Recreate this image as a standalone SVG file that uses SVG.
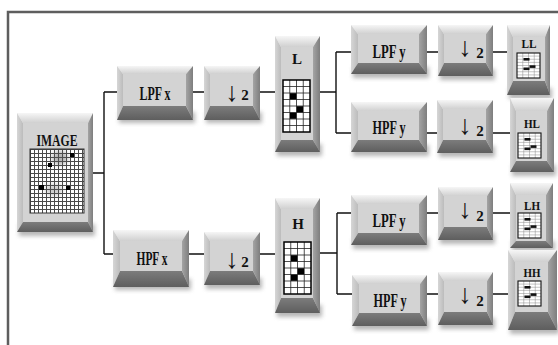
<svg xmlns="http://www.w3.org/2000/svg" xmlns:xlink="http://www.w3.org/1999/xlink" width="558" height="345" viewBox="0 0 558 345">
<defs>
<style>
.bt{fill:url(#gT)}
.bl{fill:url(#gL)}
.br{fill:url(#gR)}
.bb{fill:url(#gB)}
.fc{fill:#d3d3d3}
.sh{fill:#7a7a7a;opacity:0.55;filter:url(#blur)}
.lbl{font-family:"Liberation Serif","Times New Roman",serif;fill:#111;text-anchor:middle;font-weight:bold}
.big{font-size:18px}
.sm{font-size:15px}
.tiny{font-size:13px}
.arw{font-family:"Liberation Serif","DejaVu Serif",serif;fill:#111;font-size:27px;text-anchor:middle}
.two{font-family:"Liberation Serif",serif;fill:#111;font-size:15px;font-weight:bold;text-anchor:middle}
.con{fill:none;stroke:#111;stroke-width:1.4}
.frame{fill:none;stroke:#5e5e5e;stroke-width:2.5}
</style>
<linearGradient id="gT" x1="0" y1="0" x2="0" y2="1"><stop offset="0" stop-color="#f6f6f6"/><stop offset="1" stop-color="#d0d0d0"/></linearGradient>
<linearGradient id="gL" x1="0" y1="0" x2="1" y2="0"><stop offset="0" stop-color="#d6d6d6"/><stop offset="1" stop-color="#bcbcbc"/></linearGradient>
<linearGradient id="gR" x1="0" y1="0" x2="1" y2="0"><stop offset="0" stop-color="#a4a4a4"/><stop offset="1" stop-color="#7e7e7e"/></linearGradient>
<linearGradient id="gB" x1="0" y1="0" x2="0" y2="1"><stop offset="0" stop-color="#7c7c7c"/><stop offset="1" stop-color="#5e5e5e"/></linearGradient>
<filter id="blur" x="-20%" y="-60%" width="140%" height="220%"><feGaussianBlur stdDeviation="2"/></filter>
<filter id="soft" x="-50%" y="-50%" width="200%" height="200%"><feGaussianBlur stdDeviation="2.5"/></filter>
<pattern id="fine" x="30" y="149" width="4" height="4" patternUnits="userSpaceOnUse">
<rect width="4" height="4" fill="#fff"/>
<path d="M0,0.5H4M0.5,0V4" stroke="#4a4a4a" stroke-width="1"/>
</pattern>
<g id="bigGrid">
<rect x="0" y="0" width="27" height="52" fill="#fff"/>
<path d="M6.75,0V52M13.5,0V52M20.25,0V52M0,6.5H27M0,13H27M0,19.5H27M0,26H27M0,32.5H27M0,39H27M0,45.5H27" stroke="#222" stroke-width="0.8"/>
<rect x="7" y="13.2" width="6.3" height="6.1" fill="#000"/>
<rect x="13.7" y="26.2" width="6.3" height="6.1" fill="#000"/>
<rect x="7" y="32.7" width="6.3" height="6.1" fill="#000"/>
<rect x="0" y="0" width="27" height="52" fill="none" stroke="#000" stroke-width="1.5"/>
</g>
<g id="smallGrid">
<rect x="0" y="0" width="23" height="25" fill="#fff"/>
<path d="M5.75,0V25M11.5,0V25M17.25,0V25M0,3.1H23M0,6.25H23M0,9.4H23M0,12.5H23M0,15.6H23M0,18.75H23M0,21.9H23" stroke="#888" stroke-width="0.5"/>
<rect x="6.5" y="5" width="6" height="2.6" fill="#111"/>
<rect x="6.5" y="14.5" width="6" height="2.6" fill="#111"/>
<rect x="12.5" y="12.3" width="6" height="2.6" fill="#111"/>
<rect x="0" y="0" width="23" height="25" fill="none" stroke="#111" stroke-width="1.1"/>
</g>
</defs>
<rect width="558" height="345" fill="#fff"/>
<path class="frame" d="M8,345V12H558"/>

<g id="connectors">
<path class="con" d="M93,173H104M104,92V254M104,92H117M104,254H113"/>
<path class="con" d="M193,92H204M260,92H275M189,254H204M260,254H275"/>
<path class="con" d="M320,92H336M336,52V133M336,52H351M336,133H351"/>
<path class="con" d="M427,52H438M427,133H437M493,52H507M493,133H510"/>
<path class="con" d="M320,253H337M337,213V294M337,213H351M337,294H352"/>
<path class="con" d="M427,213H438M427,294H438M493,213H510M493,294H508"/>
</g>

<g id="image">
<rect class="sh" x="19" y="224" width="76" height="12"/>
<polygon class="bt" points="17,113 93,113 88,123 23,123"/>
<polygon class="bl" points="17,113 23,123 23,222 17,232"/>
<polygon class="br" points="93,113 93,232 88,222 88,123"/>
<polygon class="bb" points="17,232 23,222 88,222 93,232"/>
<rect class="fc" x="23" y="123" width="65" height="99"/>
<text class="lbl" x="57" y="146" font-size="17" textLength="41" lengthAdjust="spacingAndGlyphs">IMAGE</text>
<rect x="30" y="149" width="54" height="64" fill="url(#fine)"/>
<ellipse cx="60" cy="158" rx="8" ry="7" fill="#555" opacity="0.45" filter="url(#soft)"/>
<ellipse cx="54" cy="190" rx="9" ry="6" fill="#555" opacity="0.3" filter="url(#soft)"/>
<rect x="70" y="153" width="4" height="4" fill="#000"/>
<rect x="48" y="163" width="4" height="4" fill="#000"/>
<rect x="39" y="185" width="5" height="5" fill="#000"/>
<rect x="66" y="186" width="4" height="4" fill="#000"/>
<rect x="30" y="149" width="54" height="64" fill="none" stroke="#333" stroke-width="1"/>
</g>

<g id="lpfx">
<rect class="sh" x="119" y="112" width="76" height="11"/>
<polygon class="bt" points="117,66 193,66 186,74 123,74"/>
<polygon class="bl" points="117,66 123,74 123,106 117,120"/>
<polygon class="br" points="193,66 193,120 186,106 186,74"/>
<polygon class="bb" points="117,120 123,106 186,106 193,120"/>
<rect class="fc" x="123" y="74" width="63" height="32"/>
<text class="lbl big" x="155" y="100" textLength="31" lengthAdjust="spacingAndGlyphs">LPF x</text>
</g>

<g id="down1">
<rect class="sh" x="206" y="112" width="56" height="11"/>
<polygon class="bt" points="204,66 260,66 253,74 210,74"/>
<polygon class="bl" points="204,66 210,74 210,106 204,120"/>
<polygon class="br" points="260,66 260,120 253,106 253,74"/>
<polygon class="bb" points="204,120 210,106 253,106 260,120"/>
<rect class="fc" x="210" y="74" width="43" height="32"/>
<text class="arw" x="232" y="101">↓</text><text class="two" x="245" y="100">2</text>
</g>

<g id="L">
<rect class="sh" x="277" y="144" width="45" height="12"/>
<polygon class="bt" points="275,36 320,36 313,47 281,47"/>
<polygon class="bl" points="275,36 281,47 281,140 275,152"/>
<polygon class="br" points="320,36 320,152 313,140 313,47"/>
<polygon class="bb" points="275,152 281,140 313,140 320,152"/>
<rect class="fc" x="281" y="47" width="32" height="93"/>
<text class="lbl sm" x="297" y="64">L</text>
<use xlink:href="#bigGrid" x="283" y="80"/>
</g>

<g id="lpfy1">
<rect class="sh" x="353" y="67" width="76" height="11"/>
<polygon class="bt" points="351,25 427,25 419,34 358,34"/>
<polygon class="bl" points="351,25 358,34 358,63 351,74"/>
<polygon class="br" points="427,25 427,74 419,63 419,34"/>
<polygon class="bb" points="351,74 358,63 419,63 427,74"/>
<rect class="fc" x="358" y="34" width="61" height="29"/>
<text class="lbl big" x="389" y="58" textLength="33" lengthAdjust="spacingAndGlyphs">LPF y</text>
</g>

<g id="hpfy1">
<rect class="sh" x="353" y="145" width="76" height="11"/>
<polygon class="bt" points="351,102 427,102 419,111 358,111"/>
<polygon class="bl" points="351,102 358,111 358,140 351,152"/>
<polygon class="br" points="427,102 427,152 419,140 419,111"/>
<polygon class="bb" points="351,152 358,140 419,140 427,152"/>
<rect class="fc" x="358" y="111" width="61" height="29"/>
<text class="lbl big" x="389" y="134" textLength="33" lengthAdjust="spacingAndGlyphs">HPF y</text>
</g>

<g id="down2">
<rect class="sh" x="440" y="69" width="55" height="11"/>
<polygon class="bt" points="438,25 493,25 486,34 444,34"/>
<polygon class="bl" points="438,25 444,34 444,63 438,76"/>
<polygon class="br" points="493,25 493,76 486,63 486,34"/>
<polygon class="bb" points="438,76 444,63 486,63 493,76"/>
<rect class="fc" x="444" y="34" width="42" height="29"/>
<text class="arw" x="465" y="56">↓</text><text class="two" x="480" y="58">2</text>
</g>

<g id="down3">
<rect class="sh" x="439" y="146" width="56" height="11"/>
<polygon class="bt" points="437,100 493,100 486,109 443,109"/>
<polygon class="bl" points="437,100 443,109 443,140 437,153"/>
<polygon class="br" points="493,100 493,153 486,140 486,109"/>
<polygon class="bb" points="437,153 443,140 486,140 493,153"/>
<rect class="fc" x="443" y="109" width="43" height="31"/>
<text class="arw" x="465" y="134">↓</text><text class="two" x="480" y="136">2</text>
</g>

<g id="LL">
<rect class="sh" x="509" y="88" width="43" height="11"/>
<polygon class="bt" points="507,25 550,25 545,37 513,37"/>
<polygon class="bl" points="507,25 513,37 513,81 507,95"/>
<polygon class="br" points="550,25 550,95 545,81 545,37"/>
<polygon class="bb" points="507,95 513,81 545,81 550,95"/>
<rect class="fc" x="513" y="37" width="32" height="44"/>
<text class="lbl tiny" x="529" y="48" textLength="15" lengthAdjust="spacingAndGlyphs">LL</text>
<use xlink:href="#smallGrid" x="517" y="53"/>
</g>

<g id="HL">
<rect class="sh" x="512" y="165" width="44" height="11"/>
<polygon class="bt" points="510,98 554,98 547,111 516,111"/>
<polygon class="bl" points="510,98 516,111 516,161 510,172"/>
<polygon class="br" points="554,98 554,172 547,161 547,111"/>
<polygon class="bb" points="510,172 516,161 547,161 554,172"/>
<rect class="fc" x="516" y="111" width="31" height="50"/>
<text class="lbl tiny" x="532" y="128" textLength="16" lengthAdjust="spacingAndGlyphs">HL</text>
<use xlink:href="#smallGrid" x="518" y="133"/>
</g>

<g id="hpfx">
<rect class="sh" x="115" y="279" width="76" height="11"/>
<polygon class="bt" points="113,230 189,230 182,241 120,241"/>
<polygon class="bl" points="113,230 120,241 120,271 113,287"/>
<polygon class="br" points="189,230 189,287 182,271 182,241"/>
<polygon class="bb" points="113,287 120,271 182,271 189,287"/>
<rect class="fc" x="120" y="241" width="62" height="30"/>
<text class="lbl big" x="152" y="265" textLength="31" lengthAdjust="spacingAndGlyphs">HPF x</text>
</g>

<g id="down4">
<rect class="sh" x="206" y="278" width="56" height="11"/>
<polygon class="bt" points="204,232 260,232 253,241 210,241"/>
<polygon class="bl" points="204,232 210,241 210,271 204,285"/>
<polygon class="br" points="260,232 260,285 253,271 253,241"/>
<polygon class="bb" points="204,285 210,271 253,271 260,285"/>
<rect class="fc" x="210" y="241" width="43" height="30"/>
<text class="arw" x="232" y="268">↓</text><text class="two" x="245" y="267">2</text>
</g>

<g id="H">
<rect class="sh" x="277" y="305" width="45" height="12"/>
<polygon class="bt" points="275,198 320,198 313,209 281,209"/>
<polygon class="bl" points="275,198 281,209 281,298 275,313"/>
<polygon class="br" points="320,198 320,313 313,298 313,209"/>
<polygon class="bb" points="275,313 281,298 313,298 320,313"/>
<rect class="fc" x="281" y="209" width="32" height="89"/>
<text class="lbl sm" x="298" y="229">H</text>
<use xlink:href="#bigGrid" x="284" y="242"/>
</g>

<g id="lpfy2">
<rect class="sh" x="353" y="238" width="76" height="11"/>
<polygon class="bt" points="351,195 427,195 419,204 358,204"/>
<polygon class="bl" points="351,195 358,204 358,233 351,245"/>
<polygon class="br" points="427,195 427,245 419,233 419,204"/>
<polygon class="bb" points="351,245 358,233 419,233 427,245"/>
<rect class="fc" x="358" y="204" width="61" height="29"/>
<text class="lbl big" x="389" y="227" textLength="33" lengthAdjust="spacingAndGlyphs">LPF y</text>
</g>

<g id="hpfy2">
<rect class="sh" x="354" y="319" width="75" height="11"/>
<polygon class="bt" points="352,275 427,275 420,284 359,284"/>
<polygon class="bl" points="352,275 359,284 359,313 352,326"/>
<polygon class="br" points="427,275 427,326 420,313 420,284"/>
<polygon class="bb" points="352,326 359,313 420,313 427,326"/>
<rect class="fc" x="359" y="284" width="61" height="29"/>
<text class="lbl big" x="390" y="307" textLength="33" lengthAdjust="spacingAndGlyphs">HPF y</text>
</g>

<g id="down5">
<rect class="sh" x="440" y="233" width="55" height="11"/>
<polygon class="bt" points="438,187 493,187 487,196 444,196"/>
<polygon class="bl" points="438,187 444,196 444,227 438,240"/>
<polygon class="br" points="493,187 493,240 487,227 487,196"/>
<polygon class="bb" points="438,240 444,227 487,227 493,240"/>
<rect class="fc" x="444" y="196" width="43" height="31"/>
<text class="arw" x="465" y="218">↓</text><text class="two" x="480" y="221">2</text>
</g>

<g id="down6">
<rect class="sh" x="440" y="318" width="55" height="11"/>
<polygon class="bt" points="438,272 493,272 487,281 444,281"/>
<polygon class="bl" points="438,272 444,281 444,312 438,325"/>
<polygon class="br" points="493,272 493,325 487,312 487,281"/>
<polygon class="bb" points="438,325 444,312 487,312 493,325"/>
<rect class="fc" x="444" y="281" width="43" height="31"/>
<text class="arw" x="465" y="303">↓</text><text class="two" x="480" y="306">2</text>
</g>

<g id="LH">
<rect class="sh" x="512" y="241" width="43" height="10"/>
<polygon class="bt" points="510,183 553,183 546,195 516,195"/>
<polygon class="bl" points="510,183 516,195 516,241 510,248"/>
<polygon class="br" points="553,183 553,248 546,241 546,195"/>
<polygon class="bb" points="510,248 516,241 546,241 553,248"/>
<rect class="fc" x="516" y="195" width="30" height="46"/>
<text class="lbl tiny" x="532" y="210" textLength="16" lengthAdjust="spacingAndGlyphs">LH</text>
<use xlink:href="#smallGrid" x="518" y="213"/>
</g>

<g id="HH">
<rect class="sh" x="510" y="323" width="49" height="11"/>
<polygon class="bt" points="508,250 557,250 548,262 515,262"/>
<polygon class="bl" points="508,250 515,262 515,312 508,330"/>
<polygon class="br" points="557,250 557,330 548,312 548,262"/>
<polygon class="bb" points="508,330 515,312 548,312 557,330"/>
<rect class="fc" x="515" y="262" width="33" height="50"/>
<text class="lbl tiny" x="532" y="277" textLength="17" lengthAdjust="spacingAndGlyphs">HH</text>
<use xlink:href="#smallGrid" x="518" y="281"/>
</g>
</svg>
